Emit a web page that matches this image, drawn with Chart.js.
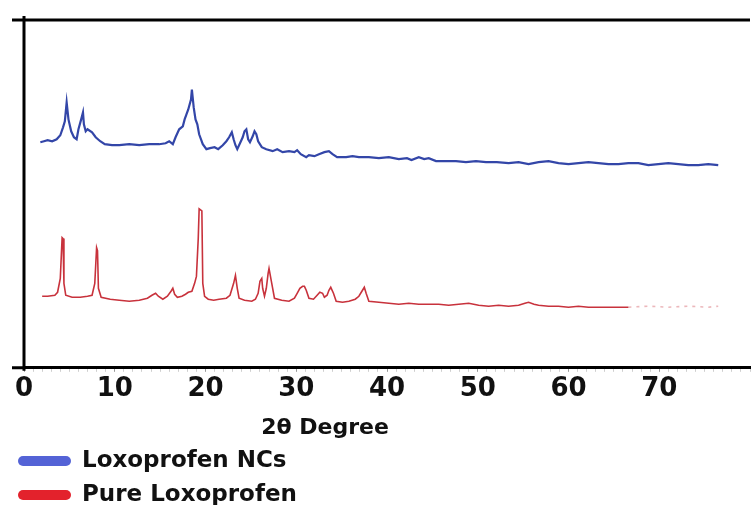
<!DOCTYPE html>
<html>
<head>
<meta charset="utf-8">
<script src="https://cdn.jsdelivr.net/npm/chart.js@4"></script>
<style>
  body { margin: 0; background: #fff; }
  #wrap { width: 752px; height: 505px; }
</style>
</head>
<body>
<div id="wrap"><canvas id="xrd"></canvas></div>
<script>
// 2-theta positions and intensities (a.u.)
const ncsTheta = [1.8, 2.2, 2.6, 3.1, 3.6, 4.0, 4.3, 4.5, 4.7, 4.9, 5.2, 5.5, 5.8, 6.0, 6.3, 6.5, 6.6, 6.8, 7.0, 7.5,
  7.9, 8.4, 8.9, 9.7, 10.5, 11.6, 12.7, 13.8, 14.9, 15.6, 16.0, 16.4, 16.7, 17.1, 17.5, 17.7, 17.9, 18.1, 18.4, 18.5,
  18.7, 18.9, 19.1, 19.3, 19.7, 20.1, 20.5, 21.0, 21.4, 21.9, 22.3, 22.6, 22.9, 23.1, 23.3, 23.5, 23.8, 24.1, 24.3, 24.5,
  24.7, 24.9, 25.2, 25.4, 25.6, 25.8, 26.2, 26.7, 27.4, 27.9, 28.5, 29.2, 29.8, 30.1, 30.5, 31.1, 31.4, 32.0, 32.5, 33.1,
  33.6, 34.0, 34.5, 35.5, 36.2, 36.9, 38.0, 39.1, 40.2, 41.3, 42.2, 42.7, 43.5, 44.1, 44.6, 45.4, 46.5, 47.6, 48.7, 49.8,
  50.9, 52.1, 53.4, 54.5, 55.6, 56.7, 57.8, 58.9, 60.0, 61.1, 62.2, 63.3, 64.4, 65.5, 66.6, 67.7, 68.8, 69.9, 71.0, 72.1,
  73.2, 74.3, 75.4, 76.5];
const ncsCounts = [227, 228, 229, 228, 230, 234, 242, 248, 267, 250, 238, 232, 230, 240, 250, 257, 245, 238, 240, 237,
  232, 228, 225, 224, 224, 225, 224, 225, 225, 226, 228, 225, 232, 240, 243, 250, 255, 260, 270, 280,
  262, 250, 245, 235, 225, 220, 221, 222, 220, 224, 228, 232, 237, 230, 224, 220, 226, 232, 238, 240,
  230, 227, 233, 238, 235, 228, 222, 220, 218, 220, 217, 218, 217, 219, 215, 212, 214, 213, 215, 217,
  218, 215, 212, 212, 213, 212, 212, 211, 212, 210, 211, 209, 212, 210, 211, 208, 208, 208, 207, 208,
  207, 207, 206, 207, 205, 207, 208, 206, 205, 206, 207, 206, 205, 205, 206, 206, 204, 205, 206, 205,
  204, 204, 205, 204];

const pureTheta = [2.0, 2.6, 3.4, 3.7, 4.0, 4.2, 4.3, 4.4, 4.6, 5.3, 6.2, 7.0, 7.5, 7.8, 8.0, 8.1, 8.2, 8.5, 9.5, 10.5,
  11.6, 12.7, 13.6, 14.1, 14.5, 14.8, 15.3, 15.8, 16.2, 16.4, 16.6, 16.9, 17.4, 17.8, 18.1, 18.5, 18.8, 19.0, 19.2, 19.3,
  19.6, 19.7, 19.9, 20.3, 20.9, 21.5, 22.3, 22.7, 23.1, 23.3, 23.5, 23.7, 24.3, 25.1, 25.5, 25.8, 26.0, 26.2, 26.3, 26.5,
  26.7, 26.9, 27.0, 27.3, 27.6, 28.4, 29.2, 29.8, 30.1, 30.4, 30.7, 30.9, 31.1, 31.4, 31.9, 32.3, 32.6, 32.9, 33.1, 33.4,
  33.6, 33.8, 34.1, 34.4, 35.1, 35.8, 36.5, 36.9, 37.3, 37.5, 37.7, 38.0, 39.1, 40.2, 41.3, 42.4, 43.5, 44.6, 45.7, 46.8,
  47.9, 49.0, 50.1, 51.2, 52.3, 53.4, 54.5, 55.2, 55.6, 56.2, 56.7, 57.8, 58.9, 60.0, 61.1, 62.2, 63.3, 64.4, 65.5, 66.6,
  68.8, 71.0, 73.2, 75.4, 76.5];
const pureCounts = [72, 72, 73, 76, 90, 131, 130, 85, 73, 71, 71, 72, 73, 85, 121, 118, 80, 71, 69, 68,
  67, 68, 70, 73, 75, 72, 69, 72, 77, 80, 74, 71, 72, 74, 76, 77, 85, 92, 130, 160,
  158, 85, 72, 69, 68, 69, 70, 73, 85, 93, 80, 70, 68, 67, 69, 75, 87, 90, 80, 72,
  80, 95, 100, 85, 70, 68, 67, 70, 75, 80, 82, 82, 78, 70, 69, 73, 76, 75, 71, 73,
  78, 81, 75, 67, 66, 67, 69, 72, 78, 81, 75, 67, 66, 65, 64, 65, 64, 64, 64, 63,
  64, 65, 63, 62, 63, 62, 63, 65, 66, 64, 63, 62, 62, 61, 62, 61, 61, 61, 61, 61,
  62, 61, 62, 61, 62];

const xTickLabels = [0, 10, 20, 30, 40, 50, 60, 70];
const seriesNames = ["Loxoprofen NCs", "Pure Loxoprofen"];
const axisTitle = "2\u03b8 Degree";

Chart.defaults.font.family = "'DejaVu Sans', sans-serif";

function toPoints(xs, ys) {
  return xs.map((x, i) => ({ x: x, y: ys[i] }));
}

// box lines, axis title and the stacked legend under the plot
const frame = {
  id: "frame",
  afterDraw(chart) {
    const ctx = chart.ctx;
    const a = chart.chartArea;
    ctx.save();
    ctx.strokeStyle = "#000";
    ctx.lineWidth = 3;
    ctx.beginPath();
    ctx.moveTo(12, a.top);
    ctx.lineTo(a.right, a.top);
    ctx.moveTo(a.left, a.top - 4);
    ctx.lineTo(a.left, a.bottom + 3);
    ctx.moveTo(12, a.bottom);
    ctx.lineTo(a.left, a.bottom);
    ctx.stroke();

    ctx.fillStyle = "#111";
    ctx.textBaseline = "middle";
    ctx.textAlign = "center";
    ctx.font = "bold 22px 'DejaVu Sans'";
    ctx.fillText(axisTitle, 325, 428);

    ctx.textAlign = "left";
    ctx.font = "bold 23px 'DejaVu Sans'";
    chart.data.datasets.forEach((ds, i) => {
      const y = 461 + i * 34;
      ctx.fillStyle = ds.legendColor;
      ctx.beginPath();
      ctx.roundRect(18, y - 5, 53, 10, 5);
      ctx.fill();
      ctx.fillStyle = "#111";
      ctx.fillText(ds.label, 82, y);
    });
    ctx.restore();
  },
};

new Chart(document.getElementById("xrd"), {
  type: "line",
  data: {
    datasets: [
      {
        label: seriesNames[0],
        data: toPoints(ncsTheta, ncsCounts),
        borderColor: "#3346a8",
        borderWidth: 2.2,
        legendColor: "#5463d6",
      },
      {
        label: seriesNames[1],
        data: toPoints(pureTheta, pureCounts),
        borderColor: "#c8323c",
        borderWidth: 1.6,
        legendColor: "#e3222c",
        segment: {
          borderColor: (c) => (c.p0.parsed.x > 66 ? "rgba(200,50,60,0.35)" : undefined),
          borderDash: (c) => (c.p0.parsed.x > 66 ? [3, 5] : undefined),
        },
      },
    ],
  },
  options: {
    responsive: true,
    maintainAspectRatio: false,
    animation: false,
    layout: { padding: { left: 24, top: 20, right: 0, bottom: 98 } },
    elements: { point: { radius: 0 }, line: { tension: 0 } },
    plugins: { legend: { display: false }, tooltip: { enabled: false } },
    scales: {
      x: {
        type: "linear",
        min: 0,
        max: 80,
        grid: {
          drawOnChartArea: false,
          tickLength: 4,
          color: (c) => (xTickLabels.includes(c.tick.value) ? "#999" : "#cfcfcf"),
        },
        border: { display: true, color: "#000", width: 3 },
        ticks: {
          stepSize: 1,
          autoSkip: false,
          maxRotation: 0,
          padding: 2,
          color: "#111",
          font: { size: 26, weight: "bold" },
          callback: (v) => (xTickLabels.includes(v) ? String(v) : ""),
        },
      },
      y: { display: false, min: 0, max: 350 },
    },
  },
  plugins: [frame],
});
</script>
</body>
</html>
